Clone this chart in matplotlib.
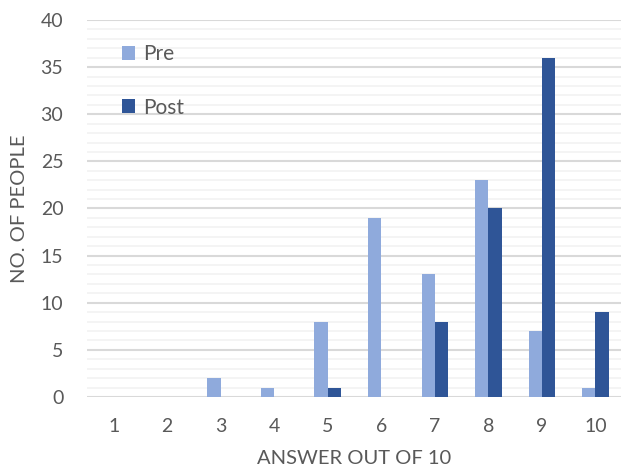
import numpy as np
import matplotlib.pyplot as plt
from matplotlib.ticker import MultipleLocator

plt.rcParams['font.family'] = ['Lato', 'DejaVu Sans']

answers = [1, 2, 3, 4, 5, 6, 7, 8, 9, 10]
pre = [0, 0, 2, 1, 8, 19, 13, 23, 7, 1]
post = [0, 0, 0, 0, 1, 0, 8, 20, 36, 9]

text_grey = '#595959'

fig = plt.figure(figsize=(6.21, 4.76), dpi=100)
ax = fig.add_axes([0.140, 0.166, 0.862, 0.792])

x = np.arange(len(answers)) + 1
w = 0.25
ax.bar(x - w / 2, pre, w, color='#8FAADC', label='Pre', zorder=3)
ax.bar(x + w / 2, post, w, color='#2F5597', label='Post', zorder=3)

ax.set_xlim(0.5, 10.5)
ax.set_ylim(0, 40)
ax.set_xticks(x)
ax.set_xticklabels([str(a) for a in answers])
ax.yaxis.set_major_locator(MultipleLocator(5))
ax.yaxis.set_minor_locator(MultipleLocator(1))
ax.grid(axis='y', which='major', color='#D9D9D9', linewidth=1.5, zorder=0)
ax.grid(axis='y', which='minor', color='#F2F2F2', linewidth=1.2, zorder=0)
for s in ax.spines.values():
    s.set_visible(False)
ax.tick_params(axis='both', which='both', length=0, labelsize=14, colors=text_grey)
ax.tick_params(axis='x', pad=15)
ax.tick_params(axis='y', pad=17)

ax.set_xlabel('ANSWER OUT OF 10', fontsize=14.5, color=text_grey, labelpad=11)
ax.set_ylabel('NO. OF PEOPLE', fontsize=14.5, color=text_grey, labelpad=9)

ax.legend(loc='upper left', bbox_to_anchor=(0.03, 0.985), frameon=False,
          fontsize=15, labelspacing=1.6, handlelength=0.65, handleheight=0.65,
          handletextpad=0.4, labelcolor=text_grey)

plt.savefig('out.png', dpi=100)
